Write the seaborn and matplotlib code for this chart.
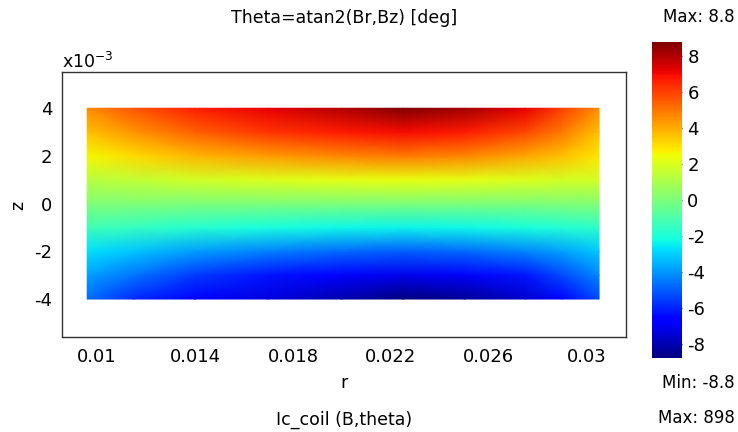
import numpy as np
import matplotlib
matplotlib.use("Agg")
import matplotlib.pyplot as plt
import seaborn as sns

# ---- data ----
r_nodes = [0.0096, 0.0115, 0.0140, 0.0170, 0.0200, 0.0225, 0.0250, 0.0275, 0.0290, 0.0305]
z_nodes_mm = [-4, -3, -2, -1, 0, 1, 2, 3, 4]

theta_z_m4 = [-4.7, -5.9, -6.8, -7.3, -8.1, -8.8, -8.4, -7.6, -6.6, -5.3]
theta_z_m3 = [-3.8, -4.6, -5.6, -6.3, -6.8, -7.1, -6.9, -6.2, -5.3, -4.2]
theta_z_m2 = [-2.7, -3.2, -3.9, -4.4, -4.8, -5.0, -4.8, -4.3, -3.8, -3.1]
theta_z_m1 = [-1.3, -1.5, -1.8, -2.1, -2.3, -2.4, -2.3, -2.1, -1.9, -1.7]
theta_z_0 = [0.1, 0.1, 0.0, 0.0, 0.0, 0.0, 0.0, 0.0, 0.1, 0.2]
theta_z_p1 = [1.3, 1.5, 1.8, 2.0, 2.2, 2.3, 2.2, 2.0, 1.9, 1.8]
theta_z_p2 = [2.6, 3.1, 3.8, 4.3, 4.7, 4.9, 4.7, 4.1, 3.6, 2.9]
theta_z_p3 = [3.6, 4.4, 5.4, 6.2, 6.7, 7.0, 6.7, 5.9, 4.9, 3.6]
theta_z_p4 = [4.6, 5.6, 6.6, 7.2, 8.0, 8.8, 8.3, 7.2, 6.0, 4.6]

r_ticks = [0.01, 0.014, 0.018, 0.022, 0.026, 0.03]
r_tick_labels = ["0.01", "0.014", "0.018", "0.022", "0.026", "0.03"]
z_ticks = [-4, -2, 0, 2, 4]
z_tick_labels = ["-4", "-2", "0", "2", "4"]
cbar_ticks = [-8, -6, -4, -2, 0, 2, 4, 6, 8]
theta_min = -8.8
theta_max = 8.8
norm_max = 898

# ---- styling ----
sns.set_style("white")
plt.rcParams['font.family'] = ['DejaVu Sans']
plt.rcParams['text.color'] = '#000000'

W, H = 738, 432
fig = plt.figure(figsize=(W / 100, H / 100), dpi=100)

ax_l, ax_r, ax_t, ax_b = 62, 626, 72, 336.7
ax = fig.add_axes([ax_l / W, 1 - ax_b / H, (ax_r - ax_l) / W, (ax_b - ax_t) / H])

field = np.array([theta_z_m4, theta_z_m3, theta_z_m2, theta_z_m1, theta_z_0,
                  theta_z_p1, theta_z_p2, theta_z_p3, theta_z_p4])
R, Z = np.meshgrid(r_nodes, z_nodes_mm)
cmap = matplotlib.colormaps["jet"]
mesh = ax.pcolormesh(R, Z, field, shading="gouraud", cmap=cmap,
                     vmin=theta_min, vmax=theta_max, antialiased=True)

ax.set_xlim(0.00857, 0.0316)
ax.set_ylim(-5.58, 5.52)
ax.set_xticks(r_ticks)
ax.set_xticklabels(r_tick_labels)
ax.set_yticks(z_ticks)
ax.set_yticklabels(z_tick_labels)
ax.tick_params(axis="both", length=0, labelsize=13, colors="#000000")
ax.tick_params(axis="x", pad=8)
ax.tick_params(axis="y", pad=7)
for s in ax.spines.values():
    s.set_color("#333333")
    s.set_linewidth(1.0)
ax.set_facecolor("white")

# colorbar
cb_l, cb_r, cb_t, cb_b = 652.3, 681.7, 41.7, 358.3
cax = fig.add_axes([cb_l / W, 1 - cb_b / H, (cb_r - cb_l) / W, (cb_b - cb_t) / H])
cb = fig.colorbar(mesh, cax=cax, ticks=cbar_ticks)
cb.outline.set_visible(False)
cax.tick_params(direction="in", left=True, right=True, length=5, width=1,
                color="#222222", labelsize=13, labelcolor="#000000", pad=4)
cax.set_yticklabels([str(t) for t in cbar_ticks])

# texts
fs = 12.5
fig.text(344 / W, 1 - 18 / H, "Theta=atan2(Br,Bz) [deg]", ha="center", va="center", fontsize=fs)
fig.text(62 / W, 1 - 62 / H, "x10$^{-3}$", ha="left", va="center", fontsize=fs)
fig.text(18 / W, 1 - 205 / H, "z", ha="center", va="center", fontsize=fs, rotation=90)
fig.text(344 / W, 1 - 383 / H, "r", ha="center", va="center", fontsize=fs)
fig.text(344 / W, 1 - 420 / H, "Ic_coil (B,theta)", ha="center", va="center", fontsize=fs)
fs_r = 12
fig.text(735 / W, 1 - 17 / H, f"Max: {theta_max}", ha="right", va="center", fontsize=fs_r)
fig.text(735 / W, 1 - 383 / H, f"Min: {theta_min}", ha="right", va="center", fontsize=fs_r)
fig.text(735 / W, 1 - 418 / H, f"Max: {norm_max}", ha="right", va="center", fontsize=fs_r)

fig.savefig("out.png", dpi=100, facecolor="white")
